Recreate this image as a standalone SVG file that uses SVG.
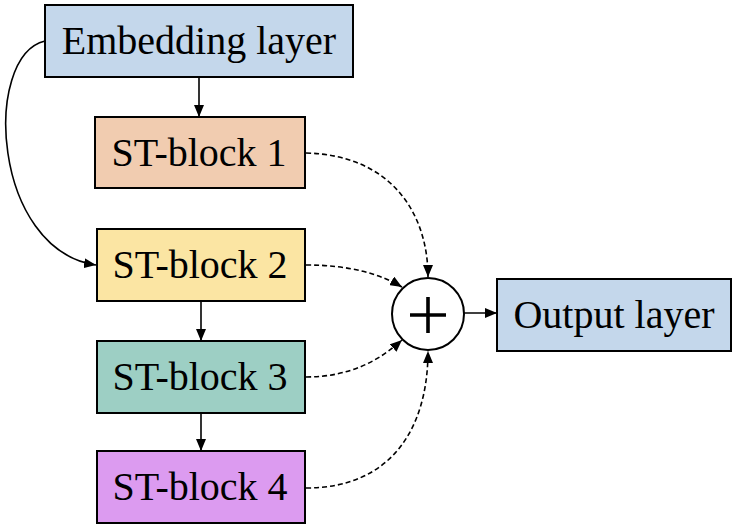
<svg xmlns="http://www.w3.org/2000/svg" width="736" height="528" viewBox="0 0 736 528">
<defs>
<marker id="ah" markerWidth="12" markerHeight="10" refX="12" refY="5" orient="auto" markerUnits="userSpaceOnUse">
<path d="M0,0 L12,5 L0,10 Z" fill="#000"/>
</marker>
<style>
.box{stroke:#000;stroke-width:2}
.lbl{font-family:"Liberation Serif","Times New Roman",serif;font-size:40px;fill:#000;text-anchor:middle}
.solid{fill:none;stroke:#000;stroke-width:1.6;marker-end:url(#ah)}
.dash{fill:none;stroke:#000;stroke-width:1.6;stroke-dasharray:5,3;marker-end:url(#ah)}
</style>
</defs>
<rect width="736" height="528" fill="#fff"/>
<g id="connectors">
<path class="solid" d="M199,77 L199,117"/>
<path class="solid" d="M201,301 L201,341"/>
<path class="solid" d="M201,413 L201,451"/>
<path class="solid" d="M45,41 C-18,56 -8,250 96,265"/>
<path class="dash" d="M306,153 C390,155 428,212 428,277"/>
<path class="dash" d="M306,265 C350,265 380,274 402,287"/>
<path class="dash" d="M306,377 C350,377 380,360 402,340"/>
<path class="dash" d="M306,488 C390,488 428,430 428,351"/>
<path class="solid" d="M464,313 L497,313"/>
</g>
<g id="embedding">
<rect class="box" x="45" y="5" width="308" height="72" fill="#C4D7EB"/>
<text class="lbl" x="199" y="54">Embedding layer</text>
</g>
<g id="st1">
<rect class="box" x="95" y="117" width="210" height="71" fill="#F1CCB0"/>
<text class="lbl" x="199" y="166">ST-block 1</text>
</g>
<g id="st2">
<rect class="box" x="97" y="229" width="208" height="72" fill="#FBE5A3"/>
<text class="lbl" x="200" y="278">ST-block 2</text>
</g>
<g id="st3">
<rect class="box" x="97" y="341" width="208" height="72" fill="#9DCFC4"/>
<text class="lbl" x="200" y="390">ST-block 3</text>
</g>
<g id="st4">
<rect class="box" x="97" y="451" width="208" height="72" fill="#DC9BF0"/>
<text class="lbl" x="200" y="500">ST-block 4</text>
</g>
<g id="sum">
<circle cx="428" cy="314" r="36" fill="#fff" stroke="#000" stroke-width="2"/>
<path d="M410,315 L446,315 M428,297 L428,333" stroke="#000" stroke-width="3.6" fill="none"/>
</g>
<g id="output">
<rect class="box" x="497" y="279" width="234" height="72" fill="#C4D7EB"/>
<text class="lbl" x="614" y="328">Output layer</text>
</g>
</svg>
